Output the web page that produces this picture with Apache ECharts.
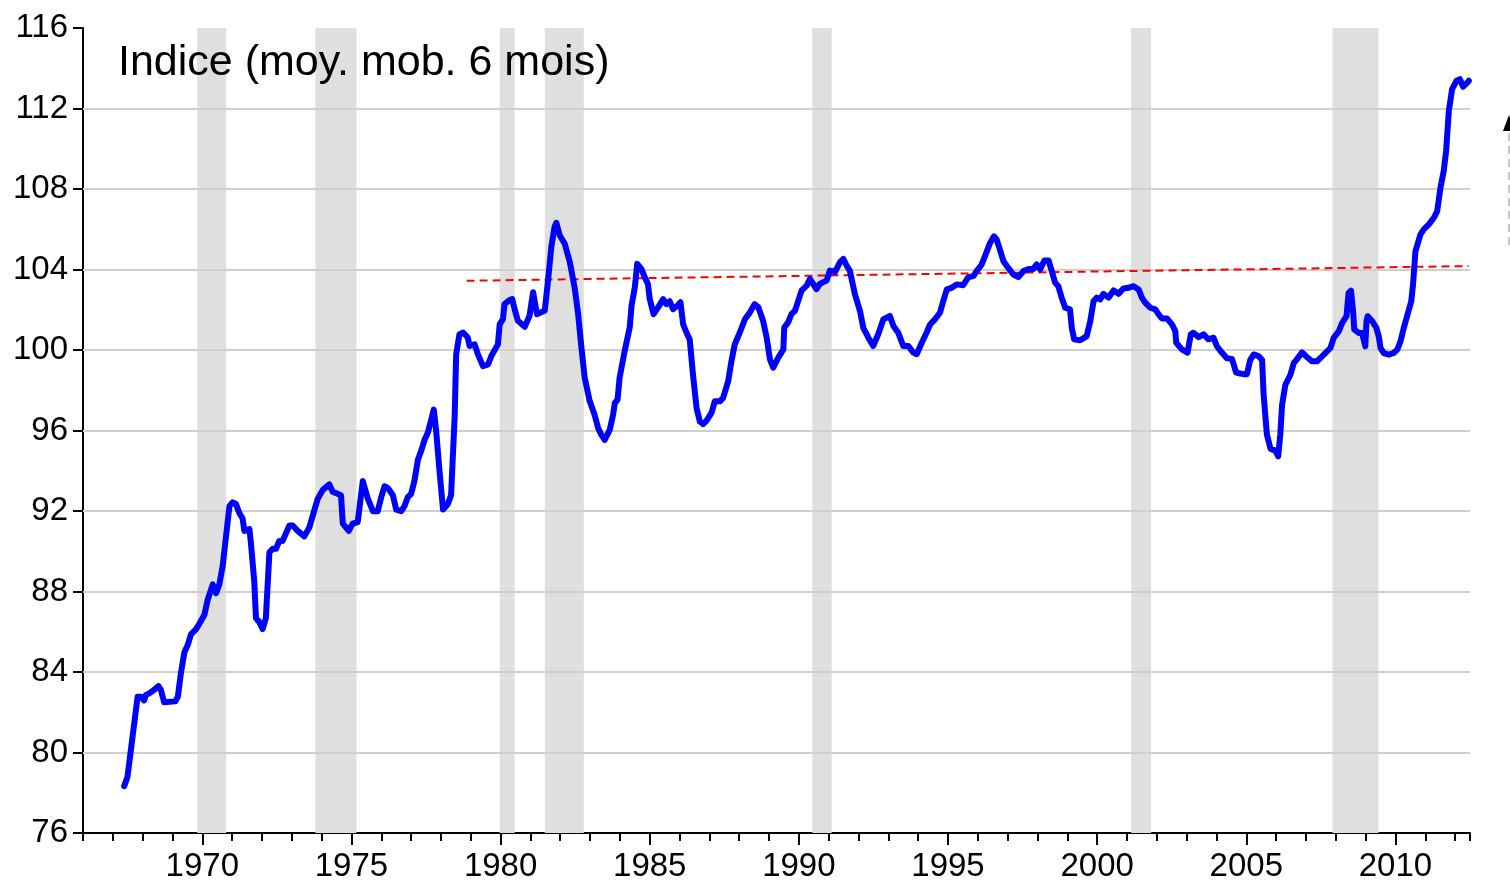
<!DOCTYPE html>
<html>
<head>
<meta charset="utf-8">
<title>Indice (moy. mob. 6 mois)</title>
<script src="https://cdn.jsdelivr.net/npm/echarts@6/dist/echarts.min.js"></script>
<style>
  html, body { margin: 0; padding: 0; background: #fff; }
  #chart { width: 1510px; height: 881px; }
</style>
</head>
<body>
<div id="chart"></div>
<script>
// dates in decimal years
const dates = [
  1967.38, 1967.49, 1967.83, 1967.94, 1968.05, 1968.10, 1968.22, 1968.39, 1968.53, 1968.61,
  1968.72, 1968.78, 1969.09, 1969.18, 1969.28, 1969.40, 1969.51, 1969.62, 1969.79, 1969.90,
  1970.07, 1970.18, 1970.35, 1970.46, 1970.57, 1970.68, 1970.91, 1971.02, 1971.13, 1971.24,
  1971.35, 1971.41, 1971.58, 1971.63, 1971.74, 1971.80, 1971.91, 1972.02, 1972.13, 1972.25,
  1972.36, 1972.47, 1972.58, 1972.69, 1972.92, 1973.03, 1973.20, 1973.42, 1973.59, 1973.71,
  1973.87, 1974.04, 1974.26, 1974.37, 1974.51, 1974.65, 1974.71, 1974.91, 1975.04, 1975.21,
  1975.38, 1975.55, 1975.72, 1975.88, 1976.00, 1976.11, 1976.22, 1976.39, 1976.50, 1976.67,
  1976.78, 1976.89, 1977.00, 1977.11, 1977.23, 1977.34, 1977.45, 1977.56, 1977.67, 1977.76,
  1977.84, 1977.95, 1978.07, 1978.23, 1978.34, 1978.46, 1978.51, 1978.62, 1978.74, 1978.90,
  1978.96, 1979.13, 1979.24, 1979.41, 1979.58, 1979.69, 1979.91, 1979.97, 1980.08, 1980.13,
  1980.30, 1980.39, 1980.47, 1980.58, 1980.81, 1980.97, 1981.09, 1981.14, 1981.22, 1981.36,
  1981.48, 1981.59, 1981.70, 1981.81, 1981.87, 1981.98, 1982.15, 1982.32, 1982.48, 1982.60,
  1982.71, 1982.82, 1982.99, 1983.15, 1983.27, 1983.38, 1983.49, 1983.66, 1983.77, 1983.83,
  1983.92, 1983.99, 1984.16, 1984.33, 1984.39, 1984.50, 1984.58, 1984.72, 1984.83, 1984.94,
  1985.00, 1985.13, 1985.28, 1985.45, 1985.56, 1985.67, 1985.78, 1985.92, 1986.03, 1986.12,
  1986.23, 1986.34, 1986.45, 1986.57, 1986.68, 1986.79, 1986.90, 1987.07, 1987.18, 1987.35,
  1987.46, 1987.63, 1987.74, 1987.85, 1988.02, 1988.19, 1988.36, 1988.52, 1988.64, 1988.80,
  1988.92, 1989.03, 1989.14, 1989.31, 1989.48, 1989.51, 1989.64, 1989.75, 1989.87, 1989.98,
  1990.09, 1990.26, 1990.37, 1990.48, 1990.59, 1990.70, 1990.82, 1990.93, 1991.04, 1991.21,
  1991.38, 1991.49, 1991.60, 1991.71, 1991.88, 1992.05, 1992.16, 1992.33, 1992.49, 1992.66,
  1992.83, 1993.05, 1993.17, 1993.33, 1993.50, 1993.67, 1993.84, 1993.95, 1994.12, 1994.28,
  1994.40, 1994.56, 1994.73, 1994.84, 1994.96, 1995.12, 1995.29, 1995.51, 1995.68, 1995.85,
  1995.96, 1996.13, 1996.24, 1996.41, 1996.54, 1996.63, 1996.74, 1996.86, 1997.02, 1997.19,
  1997.36, 1997.53, 1997.70, 1997.86, 1997.97, 1998.09, 1998.23, 1998.37, 1998.48, 1998.59,
  1998.70, 1998.81, 1998.93, 1999.09, 1999.15, 1999.23, 1999.43, 1999.65, 1999.77, 1999.88,
  1999.99, 2000.10, 2000.21, 2000.38, 2000.55, 2000.72, 2000.88, 2001.05, 2001.22, 2001.39,
  2001.50, 2001.61, 2001.78, 2001.95, 2002.06, 2002.17, 2002.34, 2002.51, 2002.62, 2002.65,
  2002.84, 2003.03, 2003.14, 2003.23, 2003.40, 2003.57, 2003.73, 2003.90, 2004.01, 2004.18,
  2004.35, 2004.52, 2004.66, 2004.80, 2004.91, 2005.02, 2005.13, 2005.25, 2005.41, 2005.53,
  2005.58, 2005.69, 2005.81, 2005.97, 2006.07, 2006.14, 2006.20, 2006.31, 2006.48, 2006.59,
  2006.70, 2006.87, 2007.01, 2007.20, 2007.37, 2007.60, 2007.82, 2007.93, 2008.10, 2008.21,
  2008.36, 2008.43, 2008.51, 2008.58, 2008.62, 2008.77, 2008.88, 2008.99, 2009.03, 2009.07,
  2009.22, 2009.36, 2009.44, 2009.50, 2009.61, 2009.78, 2009.94, 2010.06, 2010.17, 2010.28,
  2010.39, 2010.53, 2010.59, 2010.67, 2010.84, 2010.95, 2011.12, 2011.29, 2011.40, 2011.51,
  2011.62, 2011.70, 2011.79, 2011.90, 2012.05, 2012.16, 2012.27, 2012.41, 2012.46
]
const index = [
  78.33, 78.78, 82.77, 82.77, 82.59, 82.85, 82.94, 83.12, 83.30, 83.12,
  82.50, 82.54, 82.54, 82.77, 83.92, 84.98, 85.34, 85.87, 86.13, 86.40,
  86.84, 87.59, 88.35, 87.91, 88.35, 89.24, 92.25, 92.43, 92.34, 91.90,
  91.63, 91.01, 91.10, 90.39, 88.53, 86.67, 86.49, 86.13, 86.67, 89.95,
  90.12, 90.12, 90.51, 90.51, 91.28, 91.28, 91.01, 90.74, 91.19, 91.81,
  92.61, 93.05, 93.32, 92.96, 92.87, 92.78, 91.37, 91.01, 91.37, 91.45,
  93.49, 92.61, 91.99, 91.99, 92.70, 93.23, 93.14, 92.78, 92.07, 91.99,
  92.25, 92.70, 92.84, 93.49, 94.56, 95.00, 95.53, 95.89, 96.51, 97.04,
  95.98, 94.02, 92.07, 92.34, 92.78, 96.68, 99.78, 100.78, 100.87, 100.62,
  100.20, 100.28, 99.78, 99.20, 99.28, 99.70, 100.28, 101.28, 101.53, 102.28,
  102.48, 102.53, 102.03, 101.45, 101.15, 101.70, 102.87, 102.90, 101.78, 101.87,
  101.95, 103.45, 105.12, 106.12, 106.32, 105.70, 105.28, 104.37, 103.12, 101.78,
  100.12, 98.62, 97.45, 96.78, 96.12, 95.78, 95.53, 96.03, 96.78, 97.37,
  97.53, 98.62, 99.95, 101.12, 102.20, 103.12, 104.28, 104.03, 103.62, 103.28,
  102.53, 101.78, 102.12, 102.53, 102.28, 102.42, 102.03, 102.20, 102.37, 101.28,
  100.87, 100.53, 98.78, 97.12, 96.45, 96.32, 96.48, 96.87, 97.45, 97.45,
  97.62, 98.45, 99.45, 100.28, 100.87, 101.53, 101.87, 102.28, 102.12, 101.45,
  100.62, 99.53, 99.12, 99.62, 100.03, 101.12, 101.37, 101.78, 101.95, 102.45,
  102.95, 103.20, 103.53, 103.28, 103.03, 103.28, 103.37, 103.45, 103.95, 103.87,
  104.37, 104.53, 104.20, 103.93, 102.76, 101.93, 101.10, 100.61, 100.20, 100.78,
  101.52, 101.69, 101.19, 100.86, 100.20, 100.20, 99.87, 99.79, 100.36, 100.86,
  101.27, 101.52, 101.85, 102.43, 103.01, 103.09, 103.26, 103.22, 103.62, 103.67,
  103.92, 104.25, 104.66, 105.32, 105.65, 105.49, 104.99, 104.41, 104.08, 103.75,
  103.62, 103.92, 104.03, 104.03, 104.25, 104.00, 104.45, 104.45, 103.92, 103.34,
  103.17, 102.60, 102.10, 102.02, 101.10, 100.53, 100.48, 100.69, 101.44, 102.43,
  102.60, 102.51, 102.79, 102.60, 102.96, 102.79, 103.06, 103.09, 103.17, 103.01,
  102.60, 102.35, 102.10, 102.02, 101.77, 101.57, 101.57, 101.27, 100.94, 100.36,
  100.03, 99.87, 100.78, 100.86, 100.64, 100.78, 100.53, 100.61, 100.20, 99.87,
  99.59, 99.56, 98.88, 98.83, 98.80, 98.80, 99.50, 99.78, 99.70, 99.50,
  97.80, 95.80, 95.10, 95.00, 94.72, 95.80, 97.28, 98.27, 98.77, 99.35,
  99.55, 99.88, 99.68, 99.44, 99.44, 99.77, 100.10, 100.60, 100.93, 101.34,
  101.68, 102.84, 102.95, 101.93, 101.01, 100.85, 100.85, 100.18, 101.43, 101.68,
  101.43, 101.10, 100.68, 100.10, 99.85, 99.77, 99.85, 100.02, 100.43, 101.10,
  101.68, 102.42, 103.25, 104.90, 105.74, 105.99, 106.24, 106.57, 106.90, 108.07,
  108.90, 109.90, 111.88, 112.96, 113.38, 113.46, 113.08, 113.29, 113.38
]

// trend line (red dashed)
const trendDates = [1978.86, 2012.45]
const trendValues = [103.44, 104.17]

// recessions (grey bands)
const recessionStart = [1969.83, 1973.79, 1979.97, 1981.48, 1990.45, 2001.14, 2007.89]
const recessionEnd = [1970.80, 1975.17, 1980.47, 1982.79, 1991.10, 2001.81, 2009.43]

const yGridLines = [80, 84, 88, 92, 96, 100, 104, 108, 112]
const xMajorTicks = [1970, 1975, 1980, 1985, 1990, 1995, 2000, 2005, 2010]

const FONT = 'Liberation Sans, Arial, Helvetica, sans-serif'

const chart = echarts.init(document.getElementById('chart'))

const option = {
  animation: false,
  backgroundColor: '#ffffff',
  title: {
    text: 'Indice (moy. mob. 6 mois)',
    left: 113,
    top: 37,
    textStyle: { fontFamily: FONT, fontSize: 43, fontWeight: 'normal', color: '#000' }
  },
  grid: { left: 83, right: 40, top: 28, bottom: 48, containLabel: false, outerBoundsMode: 'none' },
  xAxis: [
    {
      type: 'value',
      min: 1966,
      max: 2012.5,
      interval: 1,
      axisLine: { show: true, lineStyle: { color: '#000', width: 2 } },
      axisTick: { show: true, length: 8, lineStyle: { color: '#000', width: 2 } },
      axisLabel: { show: false },
      splitLine: { show: false }
    },
    {
      type: 'value',
      min: 1966,
      max: 2012.5,
      position: 'bottom',
      axisLine: { show: false },
      axisTick: { show: true, length: 12, customValues: xMajorTicks, lineStyle: { color: '#000', width: 2 } },
      axisLabel: {
        show: true,
        customValues: xMajorTicks,
        margin: 17,
        fontFamily: FONT,
        fontSize: 33,
        color: '#000',
        formatter: (v) => String(v)
      },
      splitLine: { show: false }
    }
  ],
  yAxis: {
    type: 'value',
    min: 76,
    max: 116,
    interval: 4,
    axisLine: { show: true, lineStyle: { color: '#000', width: 2 } },
    axisTick: { show: true, length: 10, lineStyle: { color: '#000', width: 2 } },
    axisLabel: { margin: 15, fontFamily: FONT, fontSize: 33, color: '#000' },
    splitLine: { show: false }
  },
  series: [
    {
      name: 'recessions',
      type: 'line',
      data: [],
      z: 1,
      silent: true,
      markArea: {
        silent: true,
        z: 1,
        itemStyle: { color: '#dfdfdf' },
        data: recessionStart.map((s, i) => [{ xAxis: s }, { xAxis: recessionEnd[i] }])
      }
    },
    {
      name: 'grid',
      type: 'line',
      data: [],
      z: 2,
      silent: true,
      markLine: {
        silent: true,
        z: 2,
        symbol: 'none',
        label: { show: false },
        lineStyle: { color: '#cfcfcf', width: 2, type: 'solid' },
        data: yGridLines.map((v) => ({ yAxis: v }))
      }
    },
    {
      name: 'tendance',
      type: 'line',
      z: 3,
      symbol: 'none',
      data: trendDates.map((d, i) => [d, trendValues[i]]),
      lineStyle: { color: '#ff0000', width: 2, type: [8, 5] }
    },
    {
      name: 'indice',
      type: 'line',
      z: 4,
      symbol: 'none',
      data: dates.map((d, i) => [d, index[i]]),
      lineStyle: { color: '#0000ff', width: 6, cap: 'round', join: 'round' }
    }
  ],
  graphic: [
    {
      type: 'polygon',
      shape: { points: [[1503, 131], [1509, 115], [1515, 131]] },
      style: { fill: '#000' }
    },
    {
      type: 'line',
      shape: { x1: 1509, y1: 133, x2: 1509, y2: 250 },
      style: { stroke: '#c8c8c8', lineWidth: 2, lineDash: [8, 5] }
    }
  ]
}

chart.setOption(option)
</script>
</body>
</html>
